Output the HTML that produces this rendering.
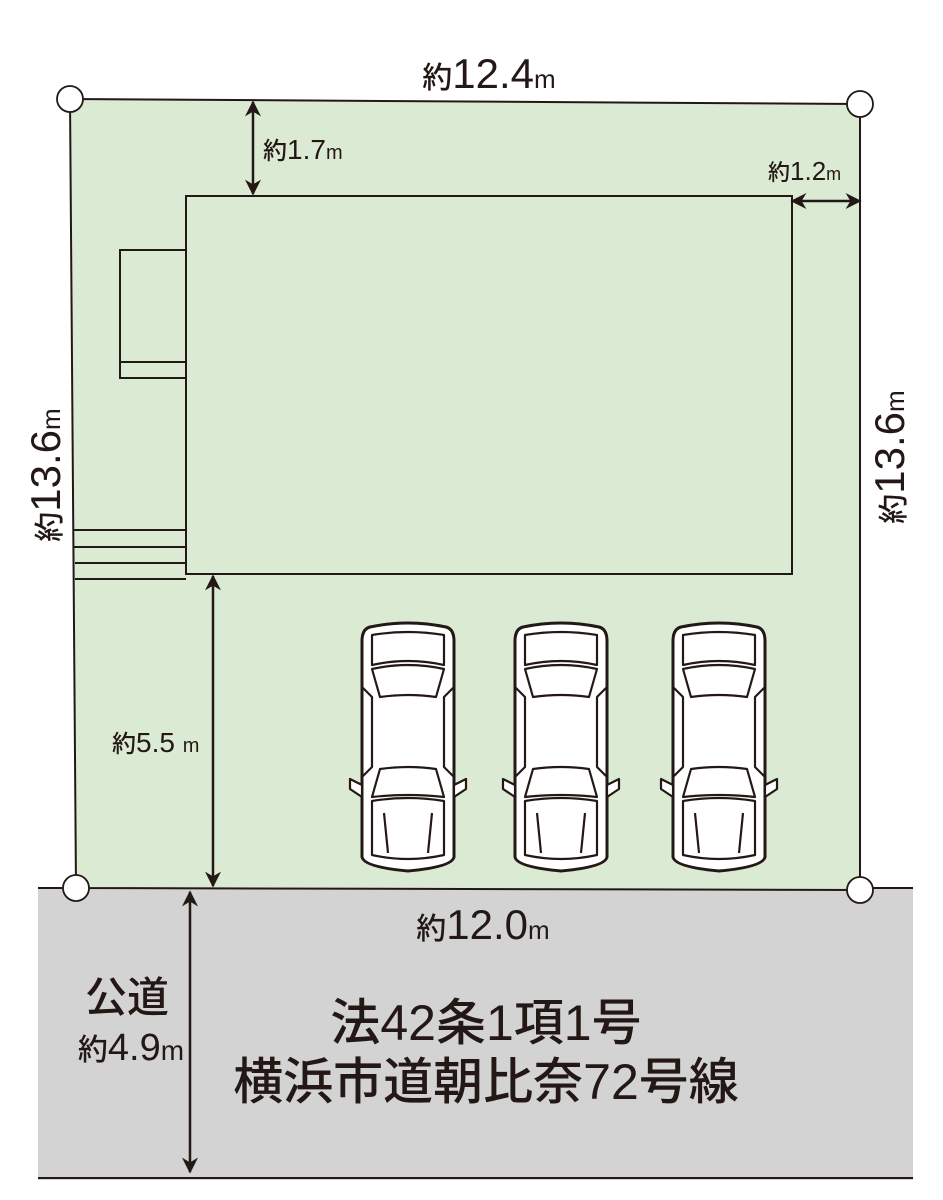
<!DOCTYPE html>
<html><head><meta charset="utf-8"><style>
html,body{margin:0;padding:0;background:#fff;}
svg{display:block;}
text{font-family:"Liberation Sans","Noto Sans CJK JP",sans-serif;fill:#231815;}
</style></head><body>
<svg width="943" height="1200" viewBox="0 0 943 1200" xmlns="http://www.w3.org/2000/svg">
<defs>
<marker id="ah" viewBox="0 0 10 10" refX="9" refY="5" markerWidth="18" markerHeight="16" orient="auto-start-reverse" markerUnits="userSpaceOnUse">
<path d="M0,0 L10,5 L0,10 L3,5 Z" fill="#231815"/></marker>
<g id="car" fill="#fff" stroke="#231815" stroke-width="2.2" stroke-linejoin="round">
<path d="M14,10 Q52,2 90,10 Q98,12 98,24 L98,240 Q96,250 52,254 Q8,250 6,240 L6,24 Q6,12 14,10 Z" stroke-width="3"/>
<path d="M16,18 Q52,12 88,18 L88,48 Q52,40 16,48 Z"/>
<path d="M16,52 Q52,44 88,52 L80,80 Q52,76 24,80 Z"/>
<path d="M16,184 Q52,178 88,184 L88,238 Q52,246 16,238 Z"/>
<path d="M24,152 Q52,148 80,152 L88,180 Q52,176 16,180 Z"/>
<path d="M28,196 L32,236 M76,196 L72,236" fill="none"/>
<path d="M6,168 L-6,162 L-6,172 L6,180 Z"/>
<path d="M98,168 L110,162 L110,172 L98,180 Z"/>
<path d="M6,70 L16,80 L16,150 L6,160 M98,70 L88,80 L88,150 L98,160" fill="none"/>
</g>
</defs>
<rect x="38" y="888" width="875" height="292" fill="#d3d3d3"/>
<line x1="38" y1="888" x2="913" y2="888" stroke="#231815" stroke-width="2"/>
<line x1="38" y1="1178" x2="913" y2="1178" stroke="#231815" stroke-width="2"/>
<polygon points="70,99 860,104 860,890 76,888" fill="#dbead3" stroke="#231815" stroke-width="2"/>
<rect x="186" y="196" width="606" height="378" fill="#dbead3" stroke="#231815" stroke-width="2"/>
<rect x="120" y="250" width="66" height="128" fill="#dbead3" stroke="#231815" stroke-width="2"/>
<line x1="120" y1="362" x2="186" y2="362" stroke="#231815" stroke-width="2"/>
<g stroke="#231815" stroke-width="2">
<line x1="74" y1="530" x2="186" y2="530"/><line x1="74" y1="547" x2="186" y2="547"/>
<line x1="75" y1="563" x2="186" y2="563"/><line x1="75" y1="579" x2="186" y2="579"/>
</g>
<g stroke="#231815" stroke-width="2.5" marker-start="url(#ah)" marker-end="url(#ah)">
<line x1="253" y1="102" x2="253" y2="194"/>
<line x1="792" y1="201" x2="860" y2="201"/>
<line x1="213" y1="576" x2="213" y2="886"/>
<line x1="190" y1="892" x2="190" y2="1172"/>
</g>
<use href="#car" x="356" y="617"/>
<use href="#car" x="509" y="617"/>
<use href="#car" x="667" y="617"/>
<g fill="#fff" stroke="#231815" stroke-width="1.8">
<circle cx="70" cy="99" r="13"/><circle cx="860" cy="104" r="13"/>
<circle cx="860" cy="890" r="13"/><circle cx="76" cy="888" r="13"/>
</g>
<g font-weight="500">
<text x="489" y="88" text-anchor="middle"><tspan font-size="30">約</tspan><tspan font-size="42">12.4</tspan><tspan font-size="26">m</tspan></text>
<text x="263" y="159" font-size="24">約<tspan font-size="28">1.7</tspan><tspan font-size="20">m</tspan></text>
<text x="768" y="180" font-size="22">約<tspan font-size="26">1.2</tspan><tspan font-size="18">m</tspan></text>
<text x="112" y="752" font-size="24">約<tspan font-size="28">5.5 </tspan><tspan font-size="20">m</tspan></text>
<text x="483" y="939" text-anchor="middle"><tspan font-size="30">約</tspan><tspan font-size="42">12.0</tspan><tspan font-size="26">m</tspan></text>
<text transform="translate(60,475) rotate(-90)" text-anchor="middle"><tspan font-size="30">約</tspan><tspan font-size="42">13.6</tspan><tspan font-size="26">m</tspan></text>
<text transform="translate(904,457) rotate(-90)" text-anchor="middle"><tspan font-size="30">約</tspan><tspan font-size="42">13.6</tspan><tspan font-size="26">m</tspan></text>
<text x="127" y="1012" font-size="42" text-anchor="middle">公道</text>
<text x="131" y="1060" text-anchor="middle"><tspan font-size="30">約</tspan><tspan font-size="38">4.9</tspan><tspan font-size="28">m</tspan></text>
<text x="486" y="1040" font-size="50" text-anchor="middle">法42条1項1号</text>
<text x="486" y="1099" font-size="50" text-anchor="middle">横浜市道朝比奈72号線</text>
</g>
</svg>
</body></html>
